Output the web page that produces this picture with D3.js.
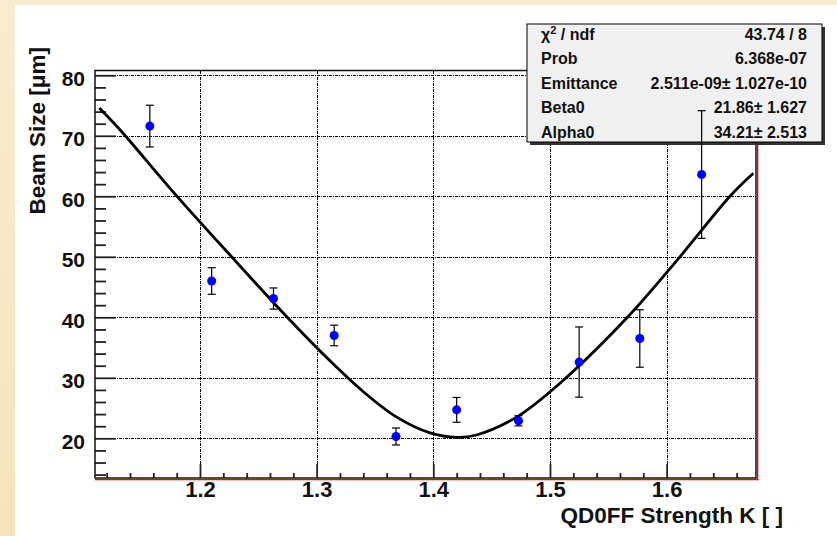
<!DOCTYPE html>
<html><head><meta charset="utf-8">
<script src="https://cdn.jsdelivr.net/npm/d3@7"></script>
<style>
body{margin:0;background:#f8e8c8;}
svg{display:block}
text{font-family:"Liberation Sans",Arial,sans-serif;font-weight:bold;fill:#111;}
</style>
</head><body>
<svg id="c" width="837" height="536"></svg>
<script>
// measured data points
const kValues   = [1.157, 1.210, 1.263, 1.315, 1.368, 1.420, 1.473, 1.525, 1.577, 1.630];
const beamSize  = [71.6, 46.0, 43.1, 37.0, 20.3, 24.7, 22.9, 32.6, 36.5, 63.6];
const beamError = [3.45, 2.2, 1.75, 1.7, 1.4, 2.05, 0.85, 5.8, 4.75, 10.55];
// fit curve
const fitK    = [1.1137, 1.1314, 1.1794, 1.2271, 1.2748, 1.3114, 1.3400, 1.3686, 1.3971, 1.4200, 1.4370, 1.4714, 1.5086, 1.5664, 1.6114, 1.6543, 1.6743];
const fitSize = [74.6, 71.0, 60.2, 50, 40, 32.8, 27.7, 23.5, 20.9, 20.17, 20.55, 23.5, 29.1, 40, 50, 60, 63.8];
// axis ticks
const xMajor = [1.2, 1.3, 1.4, 1.5, 1.6];
const xTickLabels = ["1.2", "1.3", "1.4", "1.5", "1.6"];
const yMajor = [20, 30, 40, 50, 60, 70, 80];
// fit statistics box
const statLabels = ["χ2 / ndf", "Prob", "Emittance", "Beta0", "Alpha0"];
const statValues = ["43.74 / 8", "6.368e-07", "2.511e-09± 1.027e-10", "21.86± 1.627", "34.21± 2.513"];

const svg = d3.select("#c");
// backgrounds
const defs = svg.append("defs");
const grad = defs.append("linearGradient").attr("id","bg").attr("x1","0").attr("y1","0").attr("x2","0").attr("y2","1");
grad.append("stop").attr("offset","0").attr("stop-color","#f9ebcf");
grad.append("stop").attr("offset","1").attr("stop-color","#f6e3bd");
svg.append("rect").attr("width",837).attr("height",536).attr("fill","url(#bg)");
svg.append("rect").attr("x",15).attr("y",5).attr("width",822).attr("height",531).attr("fill","#fff");

const L = 95, R = 756, T = 70.5, B = 478;
const x = d3.scaleLinear().domain([1.11, 1.6766]).range([L, R]);
const y = d3.scaleLinear().domain([13.44, 80.79]).range([B, T]);

// grid
const grid = svg.append("g").attr("stroke","#000").attr("stroke-width",1.1)
  .attr("stroke-dasharray","3,1,1,1").attr("shape-rendering","crispEdges");
grid.selectAll("line.gx").data(xMajor).join("line")
  .attr("x1", d => Math.round(x(d))+0.5).attr("x2", d => Math.round(x(d))+0.5)
  .attr("y1", T).attr("y2", B);
grid.selectAll("line.gy").data(yMajor).join("line")
  .attr("y1", d => Math.round(y(d))+0.5).attr("y2", d => Math.round(y(d))+0.5)
  .attr("x1", L).attr("x2", R);

// minor ticks
const xMinor = d3.range(1.12, 1.6766, 0.02).filter(v => !xMajor.some(m => Math.abs(m-v) < 1e-6));
const yMinor = d3.range(14, 80.5, 2).filter(v => v % 10 !== 0);

const xAxisMinor = d3.axisBottom(x).tickValues(xMinor).tickSize(-5).tickSizeOuter(0).tickFormat("");
const xAxisMajor = d3.axisBottom(x).tickValues(xMajor).tickSize(-14).tickSizeOuter(0).tickPadding(3)
  .tickFormat((d,i) => xTickLabels[i]);
const yAxisMinor = d3.axisLeft(y).tickValues(yMinor).tickSize(-11).tickSizeOuter(0).tickFormat("");
const yAxisMajor = d3.axisLeft(y).tickValues(yMajor).tickSize(-21).tickSizeOuter(0).tickPadding(10)
  .tickFormat(d3.format("d"));

function styleAxis(g){
  g.select(".domain").remove();
  g.selectAll("line").attr("stroke","#222").attr("stroke-width",1.8);
  g.selectAll("text").attr("font-size",21).attr("font-family",'"Liberation Sans",Arial,sans-serif')
   .attr("font-weight","bold").attr("fill","#111");
}
svg.append("g").attr("transform",`translate(0,${B})`).call(xAxisMinor).call(styleAxis);
svg.append("g").attr("transform",`translate(0,${B})`).call(xAxisMajor).call(styleAxis)
  .selectAll("text").attr("font-size",22);
svg.append("g").attr("transform",`translate(${L},0)`).call(yAxisMinor).call(styleAxis);
svg.append("g").attr("transform",`translate(${L},0)`).call(yAxisMajor).call(styleAxis)
  .selectAll("text").attr("dy","0.48em");

// frame
svg.append("rect").attr("x",L).attr("y",T).attr("width",R-L).attr("height",B-T)
  .attr("fill","none").attr("stroke","#111").attr("stroke-width",1.5);
svg.append("line").attr("x1",L).attr("x2",R+2.2).attr("y1",B+1.6).attr("y2",B+1.6).attr("stroke","#f00").attr("stroke-width",1.4);
svg.append("line").attr("x1",R+1.6).attr("x2",R+1.6).attr("y1",T).attr("y2",B+2.2).attr("stroke","#f00").attr("stroke-width",1.4);

// axis titles
svg.append("text").attr("x",783).attr("y",523).attr("text-anchor","end").attr("font-size",22.5)
  .text("QD0FF Strength K [ ]");
svg.append("text").attr("transform","translate(45,47) rotate(-90)").attr("text-anchor","end").attr("font-size",22.5)
  .text("Beam Size [μm]");

// fit curve
const fitData = fitK.map((k,i) => [k, fitSize[i]]);
svg.append("path").datum(fitData)
  .attr("d", d3.line().x(d => x(d[0])).y(d => y(d[1])).curve(d3.curveCatmullRom.alpha(0.5)))
  .attr("fill","none").attr("stroke","#000").attr("stroke-width",2.8).attr("stroke-linejoin","round");

// stats box
const bx = 527, by = 24, bw = 295, bh = 118;
svg.append("rect").attr("x",bx+3).attr("y",by+3).attr("width",bw).attr("height",bh).attr("fill","#333");
svg.append("rect").attr("x",bx).attr("y",by).attr("width",bw).attr("height",bh)
  .attr("fill","#f0f0f0").attr("stroke","#000").attr("stroke-width",1);
const rowY = [40, 64.4, 88.9, 113.3, 137.7];
statLabels.forEach((s,i) => {
  const t = svg.append("text").attr("x",541).attr("y",rowY[i]).attr("font-size",16);
  if (i === 0) {
    t.append("tspan").text("χ");
    t.append("tspan").attr("font-size",11).attr("dy",-6).text("2");
    t.append("tspan").attr("dy",6).text(" / ndf");
  } else t.text(s);
  svg.append("text").attr("x",807).attr("y",rowY[i]).attr("font-size",16).attr("text-anchor","end").text(statValues[i]);
});

// data points with error bars
const pts = svg.append("g");
kValues.forEach((k,i) => {
  const cx = x(k), top = y(beamSize[i]+beamError[i]), bot = y(beamSize[i]-beamError[i]);
  pts.append("line").attr("x1",cx).attr("x2",cx).attr("y1",top).attr("y2",bot).attr("stroke","#000").attr("stroke-width",1.2);
  pts.append("line").attr("x1",cx-4).attr("x2",cx+4).attr("y1",top).attr("y2",top).attr("stroke","#000").attr("stroke-width",1.2);
  pts.append("line").attr("x1",cx-4).attr("x2",cx+4).attr("y1",bot).attr("y2",bot).attr("stroke","#000").attr("stroke-width",1.2);
  pts.append("circle").attr("cx",cx).attr("cy",y(beamSize[i])).attr("r",4.5).attr("fill","#0000ff");
});
</script>
</body></html>
